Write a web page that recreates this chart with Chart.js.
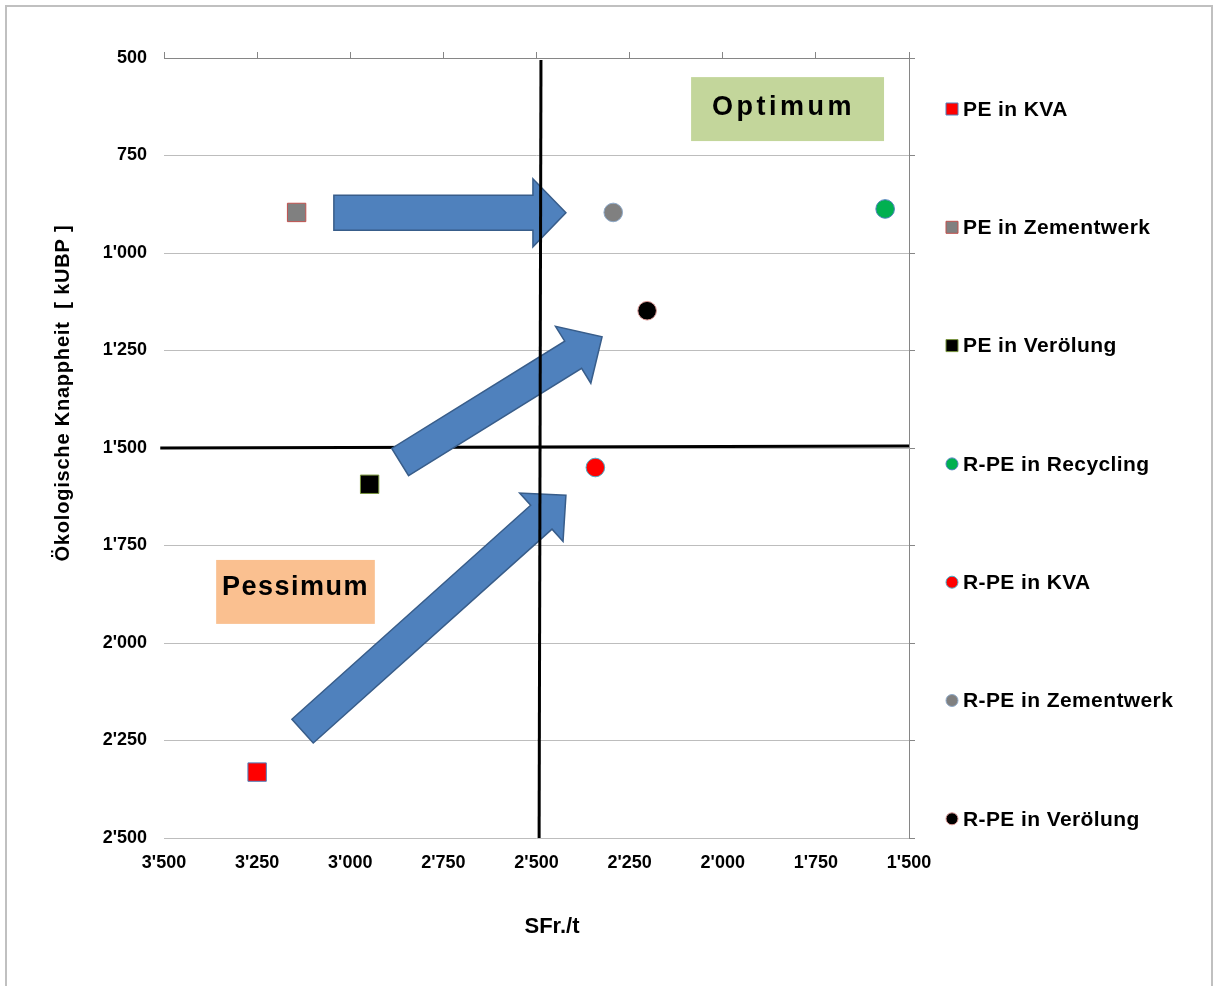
<!DOCTYPE html>
<html>
<head>
<meta charset="utf-8">
<script src="https://cdn.jsdelivr.net/npm/chart.js@4.4.1/dist/chart.umd.min.js"></script>
<style>
  html, body { margin: 0; padding: 0; background: #fff; }
  #chart { position: absolute; left: 0; top: 0; }
</style>
</head>
<body>
<canvas id="chart" width="1222" height="986"></canvas>
<script>
// Werte
const serien = ['PE in KVA', 'PE in Zementwerk', 'PE in Verölung', 'R-PE in Recycling', 'R-PE in KVA', 'R-PE in Zementwerk', 'R-PE in Verölung'];
const kosten = [3250, 3144, 2948, 1564, 2342, 2294, 2203];      // SFr./t
const knappheit = [2331, 896, 1593, 887, 1550, 896, 1148];      // kUBP

// Trennlinien (Quadranten)
const linieSenkrecht = [{ x: 2488, y: 505 }, { x: 2493, y: 2500 }];
const linieWaagrecht = [{ x: 3510, y: 1500 }, { x: 1500, y: 1495 }];

// Pfeile: von -> nach (in Achsenwerten)
const pfeile = [
  { von: [3044, 897], nach: [2421, 897] },
  { von: [2866, 1536], nach: [2324, 1215] },
  { von: [3128, 2226], nach: [2421, 1621] }
];

const xMin = 1500, xMax = 3500, yMin = 500, yMax = 2500, schritt = 250;

// Stil
const fuellung = ['#ff0000', '#808080', '#000000', '#00b050', '#ff0000', '#808080', '#000000'];
const rand = ['#4f81bd', '#c0504d', '#77933c', '#4f81bd', '#4bacc6', '#8ea9c8', '#d99694'];
const form = ['rect', 'rect', 'rect', 'circle', 'circle', 'circle', 'circle'];
const pfeilMasse = [{ schaft: 35, kopf: 68, laenge: 33 }, { schaft: 32, kopf: 67, laenge: 34 }, { schaft: 32, kopf: 65, laenge: 33 }];

const schrift = "'Liberation Sans', Arial, sans-serif";

function fmt(v) {
  return String(v).replace(/\B(?=(\d{3})+(?!\d))/g, "'");
}

const datasets = serien.map((name, i) => ({
  label: name,
  data: [{ x: kosten[i], y: knappheit[i] }],
  pointStyle: form[i],
  pointRadius: form[i] === 'rect' ? 13 : 9.3,
  pointHoverRadius: form[i] === 'rect' ? 13 : 9.3,
  backgroundColor: fuellung[i],
  borderColor: rand[i],
  borderWidth: 1,
  imLegend: true
}));

datasets.push({
  label: 'waagrecht',
  data: linieWaagrecht,
  showLine: true,
  pointRadius: 0,
  borderColor: '#000',
  borderWidth: 3,
  clip: false,
  imLegend: false
});
datasets.push({
  label: 'senkrecht',
  data: linieSenkrecht,
  showLine: true,
  pointRadius: 0,
  borderColor: '#000',
  borderWidth: 3,
  clip: false,
  order: -1,
  imLegend: false
});

function zeichnePfeile(chart) {
  const ctx = chart.ctx;
  const sx = chart.scales.x, sy = chart.scales.y;
  pfeile.forEach((p, i) => {
    const m = pfeilMasse[i];
    const x0 = sx.getPixelForValue(p.von[0]), y0 = sy.getPixelForValue(p.von[1]);
    const x1 = sx.getPixelForValue(p.nach[0]), y1 = sy.getPixelForValue(p.nach[1]);
    const len = Math.hypot(x1 - x0, y1 - y0);
    const dx = (x1 - x0) / len, dy = (y1 - y0) / len;
    const nx = -dy, ny = dx;
    const bx = x1 - dx * m.laenge, by = y1 - dy * m.laenge;
    const s = m.schaft / 2, k = m.kopf / 2;
    ctx.save();
    ctx.beginPath();
    ctx.moveTo(x0 + nx * s, y0 + ny * s);
    ctx.lineTo(bx + nx * s, by + ny * s);
    ctx.lineTo(bx + nx * k, by + ny * k);
    ctx.lineTo(x1, y1);
    ctx.lineTo(bx - nx * k, by - ny * k);
    ctx.lineTo(bx - nx * s, by - ny * s);
    ctx.lineTo(x0 - nx * s, y0 - ny * s);
    ctx.closePath();
    ctx.fillStyle = '#4f81bd';
    ctx.fill();
    ctx.lineWidth = 1.5;
    ctx.strokeStyle = '#385d8a';
    ctx.stroke();
    ctx.restore();
  });
}

function textBox(ctx, sx, sy, box, text, farbe, abstand, dx, dy) {
  const l = sx.getPixelForValue(box[0]), r = sx.getPixelForValue(box[1]);
  const t = sy.getPixelForValue(box[2]), b = sy.getPixelForValue(box[3]);
  ctx.save();
  ctx.fillStyle = farbe;
  ctx.fillRect(l, t, r - l, b - t);
  ctx.fillStyle = '#000';
  ctx.font = 'bold 27px ' + schrift;
  ctx.letterSpacing = abstand;
  ctx.textAlign = 'center';
  ctx.textBaseline = 'middle';
  ctx.fillText(text, (l + r) / 2 + dx, (t + b) / 2 + dy);
  ctx.restore();
}

const extras = {
  id: 'extras',
  beforeDraw(chart) {
    const ctx = chart.ctx;
    ctx.save();
    ctx.fillStyle = '#fff';
    ctx.fillRect(0, 0, chart.width, chart.height);
    ctx.strokeStyle = '#c0c0c0';
    ctx.lineWidth = 2;
    ctx.strokeRect(6, 6, 1206, 1000);
    ctx.restore();
  },
  beforeDatasetDraw(chart, args) {
    if (chart.data.datasets[args.index].label === 'senkrecht') zeichnePfeile(chart);
  },
  afterDraw(chart) {
    const ctx = chart.ctx;
    const sx = chart.scales.x, sy = chart.scales.y;
    textBox(ctx, sx, sy, [2085, 1567, 549, 713], 'Optimum', '#c3d69b', '3.5px', -4, -2);
    textBox(ctx, sx, sy, [3360, 2934, 1787, 1951], 'Pessimum', '#fac090', '1.5px', 0, -4);

    // Legende
    const area = chart.chartArea;
    const items = chart.data.datasets.filter(d => d.imLegend);
    const y0 = area.top + 51, dy = 118.3;
    ctx.save();
    ctx.font = 'bold 21px ' + schrift;
    ctx.letterSpacing = '0.4px';
    ctx.textBaseline = 'middle';
    ctx.textAlign = 'left';
    items.forEach((d, i) => {
      const y = y0 + i * dy, x = area.right + 43;
      ctx.fillStyle = d.backgroundColor;
      ctx.strokeStyle = d.borderColor;
      ctx.lineWidth = 1;
      ctx.beginPath();
      if (d.pointStyle === 'rect') ctx.rect(x - 6, y - 6, 12, 12);
      else ctx.arc(x, y, 6, 0, Math.PI * 2);
      ctx.fill();
      ctx.stroke();
      ctx.fillStyle = '#000';
      ctx.fillText(d.label, x + 11, y + 1);
    });

    // Achsentitel
    ctx.textAlign = 'center';
    ctx.letterSpacing = '0px';
    ctx.font = 'bold 22px ' + schrift;
    ctx.fillText('SFr./t', 552, 927);
    ctx.translate(63, 393);
    ctx.rotate(-Math.PI / 2);
    ctx.font = 'bold 20px ' + schrift;
    ctx.letterSpacing = '0.8px';
    ctx.fillText('Ökologische Knappheit  [ kUBP ]', 0, 0);
    ctx.restore();
  }
};

const tickFont = { family: schrift, size: 18, weight: 'bold' };

new Chart(document.getElementById('chart'), {
  type: 'scatter',
  data: { datasets },
  options: {
    responsive: false,
    animation: false,
    devicePixelRatio: 1,
    layout: { padding: { top: 58, right: 313, left: 0, bottom: 0 } },
    plugins: { legend: { display: false }, tooltip: { enabled: false } },
    scales: {
      x: {
        type: 'linear', position: 'bottom', reverse: true, min: xMin, max: xMax,
        ticks: { stepSize: schritt, color: '#000', font: tickFont, padding: 14, maxRotation: 0, autoSkip: false, callback: v => fmt(v) },
        grid: { display: false, drawTicks: false },
        border: { display: false },
        afterFit: s => { s.height = 148; }
      },
      xTop: {
        type: 'linear', position: 'top', reverse: true, min: xMin, max: xMax,
        ticks: { display: false, stepSize: schritt },
        grid: { drawOnChartArea: false, tickLength: 6, color: '#868686' },
        border: { color: '#868686', width: 1 },
        afterFit: s => { s.height = 0; }
      },
      y: {
        type: 'linear', position: 'left', reverse: true, min: yMin, max: yMax,
        ticks: { stepSize: schritt, color: '#000', font: tickFont, padding: 17, callback: v => fmt(v) },
        grid: { color: c => (c.tick && c.tick.value === yMin ? 'rgba(0,0,0,0)' : '#bdbdbd'), drawTicks: false },
        border: { display: false },
        afterFit: s => { s.width = 164; }
      },
      yRight: {
        type: 'linear', position: 'right', reverse: true, min: yMin, max: yMax,
        ticks: { display: false, stepSize: schritt },
        grid: { drawOnChartArea: false, tickLength: 6, color: '#868686' },
        border: { color: '#868686', width: 1 },
        afterFit: s => { s.width = 0; }
      }
    }
  },
  plugins: [extras]
});
</script>
</body>
</html>
